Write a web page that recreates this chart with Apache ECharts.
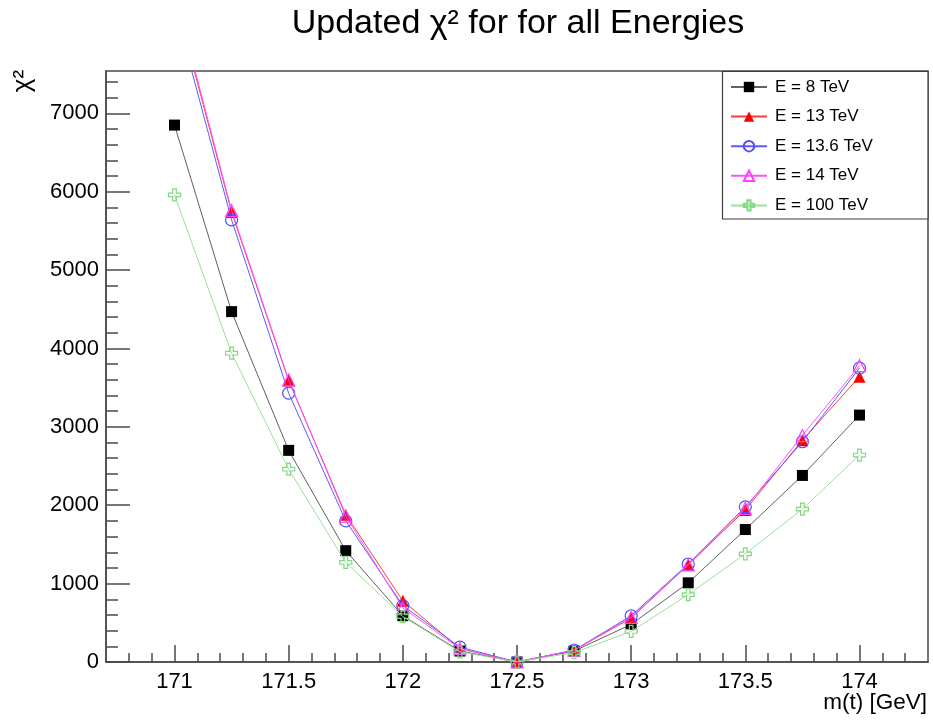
<!DOCTYPE html>
<html>
<head>
<meta charset="utf-8">
<script src="https://cdn.jsdelivr.net/npm/echarts@6/dist/echarts.min.js"></script>
<style>
  html, body { margin: 0; padding: 0; background: #ffffff; }
  #chart { width: 933px; height: 721px; }
</style>
</head>
<body>
<div id="chart"></div>
<script>
// Top-quark mass scan points [GeV]
const masses = [171, 171.25, 171.5, 171.75, 172, 172.25, 172.5, 172.75, 173, 173.25, 173.5, 173.75, 174];

// chi^2 per collision energy
const chi2_8TeV    = [6850, 4470, 2700, 1420, 590, 140, 0, 140, 480, 1010, 1690, 2380, 3150];
const chi2_13TeV   = [8500, 5740, 3590, 1880, 780, 170, 0, 150, 560, 1240, 1940, 2830, 3640];
const chi2_13p6TeV = [8360, 5640, 3430, 1800, 720, 190, 0, 150, 590, 1250, 1980, 2810, 3750];
const chi2_14TeV   = [8550, 5760, 3600, 1860, 690, 170, 0, 150, 570, 1240, 1960, 2890, 3780];
const chi2_100TeV  = [5960, 3940, 2460, 1270, 580, 130, 0, 120, 390, 860, 1380, 1950, 2640];

const seriesNames = ['E = 8 TeV', 'E = 13 TeV', 'E = 13.6 TeV', 'E = 14 TeV', 'E = 100 TeV'];

// Axis tick labels
const xTickLabels = [171, 171.5, 172, 172.5, 173, 173.5, 174];
const yTickLabels = [0, 1000, 2000, 3000, 4000, 5000, 6000, 7000];

// Minor tick positions (0.1 GeV and 200 steps)
const xMinorTicks = [];
for (let k = 1708; k <= 1742; k++) xMinorTicks.push(k / 10);
const yMinorTicks = [];
for (let v = 200; v <= 7400; v += 200) yMinorTicks.push(v);

const X_MIN = 170.7, X_MAX = 174.3;
const Y_MIN = 0, Y_MAX = 7540;

const FONT = '"Liberation Sans", Arial, Helvetica, sans-serif';
const AXIS_COLOR = '#4a4a4a';

const toPairs = arr => masses.map((m, i) => [m, arr[i]]);

// Open cross marker outline
const openCross = 'path://M3.5,0 L6.5,0 L6.5,3.5 L10,3.5 L10,6.5 L6.5,6.5 L6.5,10 L3.5,10 L3.5,6.5 L0,6.5 L0,3.5 L3.5,3.5 Z';

const styles = [
  { symbol: 'rect', size: 11, fill: '#000000', border: '#000000', line: '#606060' },
  { symbol: 'triangle', size: 12, fill: '#ff0000', border: '#ff0000', line: '#ff3a3a' },
  { symbol: 'circle', size: 12, fill: 'rgba(255,255,255,0)', border: '#5050ff', line: '#5a5aff' },
  { symbol: 'triangle', size: 12, fill: 'rgba(255,255,255,0)', border: '#ff40ff', line: '#ff50ff' },
  { symbol: openCross, size: 12, fill: 'rgba(255,255,255,0)', border: '#80d880', line: '#98e298' }
];
const datasets = [chi2_8TeV, chi2_13TeV, chi2_13p6TeV, chi2_14TeV, chi2_100TeV];

const series = datasets.map((d, i) => ({
  name: seriesNames[i],
  type: 'line',
  xAxisIndex: 0,
  yAxisIndex: 0,
  data: toPairs(d),
  clip: true,
  symbol: styles[i].symbol,
  symbolSize: styles[i].size,
  showAllSymbol: true,
  lineStyle: { color: styles[i].line, width: 1 },
  itemStyle: { color: styles[i].fill, borderColor: styles[i].border, borderWidth: i === 0 || i === 1 ? 0 : 1.2 },
  emphasis: { disabled: true },
  animation: false,
  z: 3 + i
}));

const chart = echarts.init(document.getElementById('chart'), null, { renderer: 'canvas' });

chart.setOption({
  animation: false,
  backgroundColor: '#ffffff',
  grid: {
    left: 106, top: 71, right: 5, bottom: 59,
    show: true, borderColor: AXIS_COLOR, borderWidth: 1.5,
    outerBoundsMode: 'none', containLabel: false
  },
  xAxis: [
    {
      type: 'value', min: X_MIN, max: X_MAX, position: 'bottom',
      axisLine: { show: true, onZero: false, lineStyle: { color: AXIS_COLOR, width: 1.5 } },
      axisTick: { show: true, inside: true, length: 17, customValues: xTickLabels, lineStyle: { color: AXIS_COLOR, width: 1.5 } },
      axisLabel: { show: true, customValues: xTickLabels, margin: 9, color: '#000', fontSize: 22, fontFamily: FONT,
                   formatter: v => String(v) },
      splitLine: { show: false }
    },
    {
      type: 'value', min: X_MIN, max: X_MAX, position: 'bottom',
      axisLine: { show: false },
      axisTick: { show: true, inside: true, length: 9, customValues: xMinorTicks, lineStyle: { color: AXIS_COLOR, width: 1.5 } },
      axisLabel: { show: false },
      splitLine: { show: false }
    }
  ],
  yAxis: [
    {
      type: 'value', min: Y_MIN, max: Y_MAX, position: 'left',
      axisLine: { show: true, onZero: false, lineStyle: { color: AXIS_COLOR, width: 1.5 } },
      axisTick: { show: true, inside: true, length: 24, customValues: yTickLabels, lineStyle: { color: AXIS_COLOR, width: 1.5 } },
      axisLabel: { show: true, customValues: yTickLabels, margin: 7, color: '#000', fontSize: 22, fontFamily: FONT,
                   formatter: v => String(v) },
      splitLine: { show: false }
    },
    {
      type: 'value', min: Y_MIN, max: Y_MAX, position: 'left',
      axisLine: { show: false },
      axisTick: { show: true, inside: true, length: 12, customValues: yMinorTicks, lineStyle: { color: AXIS_COLOR, width: 1.5 } },
      axisLabel: { show: false },
      splitLine: { show: false }
    }
  ],
  legend: {
    data: seriesNames,
    orient: 'vertical',
    left: 730,
    top: 77,
    padding: 0,
    itemWidth: 36,
    itemHeight: 13,
    itemGap: 9.6,
    selectedMode: false,
    textStyle: { fontSize: 17, fontFamily: FONT, color: '#000', lineHeight: 20, padding: [0, 0, 0, 3] },
    z: 20
  },
  graphic: [
    {
      type: 'rect', z: 15, silent: true,
      shape: { x: 722.5, y: 71.5, width: 205.5, height: 147.5 },
      style: { fill: '#ffffff', stroke: '#3c3c3c', lineWidth: 1.2 }
    },
    {
      type: 'text', z: 20, silent: true,
      x: 518, y: 24,
      style: { text: 'Updated χ² for for all Energies', align: 'center', verticalAlign: 'middle',
               fontSize: 34, fontFamily: FONT, fill: '#000' }
    },
    {
      type: 'text', z: 20, silent: true,
      x: 927, y: 703,
      style: { text: 'm(t) [GeV]', align: 'right', verticalAlign: 'middle', fontSize: 22.5, fontFamily: FONT, fill: '#000' }
    },
    {
      type: 'text', z: 20, silent: true,
      x: 23, y: 81, rotation: Math.PI / 2,
      style: { text: 'χ²', align: 'center', verticalAlign: 'middle', fontSize: 26, fontFamily: FONT, fill: '#000' }
    }
  ],
  series: series
});
</script>
</body>
</html>
